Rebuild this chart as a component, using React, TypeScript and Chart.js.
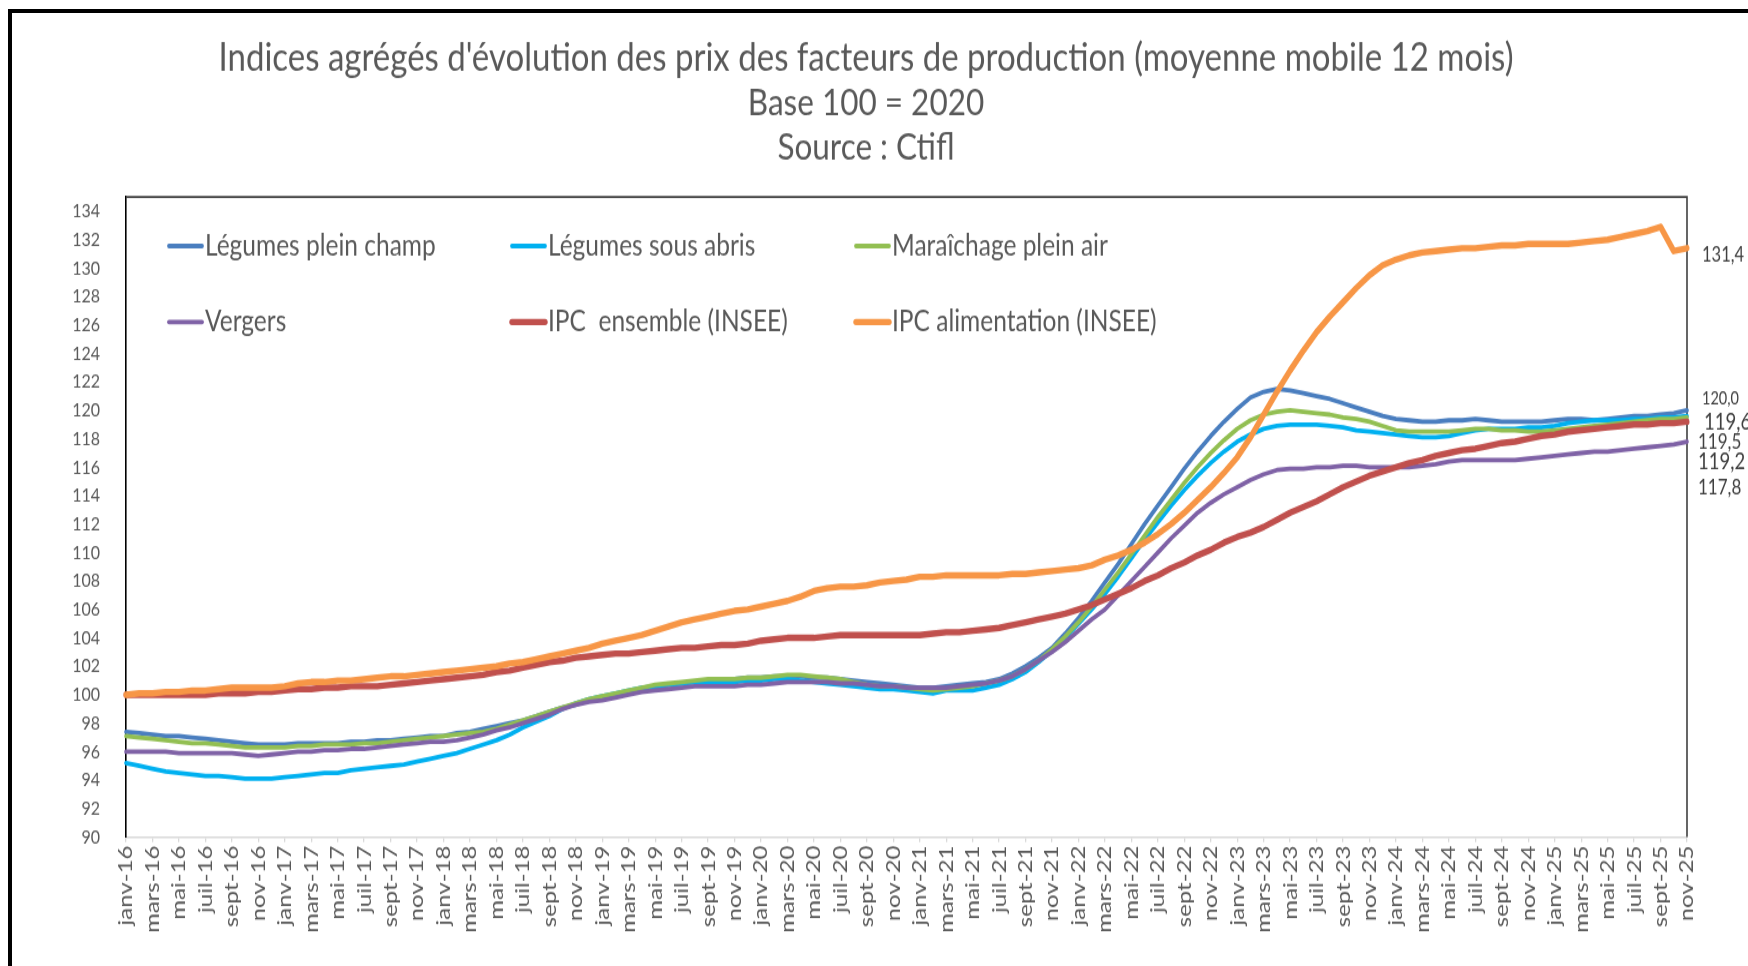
import { useEffect, useRef } from 'react';
import { Chart, registerables } from 'chart.js';

Chart.register(...registerables);

// ---------- data ----------
const MONTHS = ['janv', 'févr', 'mars', 'avr', 'mai', 'juin', 'juil', 'août', 'sept', 'oct', 'nov', 'déc'];
const YEARS = ['16', '17', '18', '19', '20', '21', '22', '23', '24', '25'];
const CATEGORIES: string[] = YEARS.flatMap((y) => MONTHS.map((m) => `${m}-${y}`)).slice(0, 119); // janv-16 .. nov-25

const Y_TICKS = [90, 92, 94, 96, 98, 100, 102, 104, 106, 108, 110, 112, 114, 116, 118, 120, 122, 124, 126, 128, 130, 132, 134];

const TITLE_LINES = [
  "Indices agrégés d'évolution des prix des facteurs de production (moyenne mobile 12 mois)",
  'Base 100 = 2020',
  'Source : Ctifl',
];

const LEGUMES_PLEIN_CHAMP = [
  97.4, 97.3, 97.2, 97.1, 97.1, 97.0, 96.9, 96.8, 96.7, 96.6,
  96.5, 96.5, 96.5, 96.6, 96.6, 96.6, 96.6, 96.7, 96.7, 96.8,
  96.8, 96.9, 97.0, 97.1, 97.1, 97.3, 97.4, 97.6, 97.8, 98.0,
  98.2, 98.5, 98.8, 99.1, 99.3, 99.6, 99.8, 100.0, 100.2, 100.4,
  100.5, 100.7, 100.8, 100.9, 101.0, 101.1, 101.1, 101.2, 101.2, 101.3,
  101.3, 101.3, 101.2, 101.2, 101.1, 101.0, 100.9, 100.8, 100.7, 100.6,
  100.5, 100.5, 100.6, 100.7, 100.8, 100.9, 101.1, 101.5, 102.0, 102.6,
  103.3, 104.3, 105.4, 106.6, 107.9, 109.2, 110.6, 112.0, 113.3, 114.6,
  115.9, 117.1, 118.2, 119.2, 120.1, 120.9, 121.3, 121.5, 121.4, 121.2,
  121.0, 120.8, 120.5, 120.2, 119.9, 119.6, 119.4, 119.3, 119.2, 119.2,
  119.3, 119.3, 119.4, 119.3, 119.2, 119.2, 119.2, 119.2, 119.3, 119.4,
  119.4, 119.3, 119.4, 119.5, 119.6, 119.6, 119.7, 119.8, 120.0,
];

const LEGUMES_SOUS_ABRIS = [
  95.2, 95.0, 94.8, 94.6, 94.5, 94.4, 94.3, 94.3, 94.2, 94.1,
  94.1, 94.1, 94.2, 94.3, 94.4, 94.5, 94.5, 94.7, 94.8, 94.9,
  95.0, 95.1, 95.3, 95.5, 95.7, 95.9, 96.2, 96.5, 96.8, 97.2,
  97.7, 98.1, 98.5, 99.0, 99.4, 99.7, 99.9, 100.1, 100.3, 100.5,
  100.6, 100.7, 100.8, 100.9, 100.9, 100.9, 100.9, 101.0, 101.0, 101.1,
  101.1, 101.0, 100.9, 100.8, 100.7, 100.6, 100.5, 100.4, 100.4, 100.3,
  100.2, 100.1, 100.3, 100.3, 100.3, 100.5, 100.7, 101.1, 101.6, 102.3,
  103.1, 104.0, 105.0, 106.0, 107.1, 108.3, 109.6, 110.9, 112.1, 113.3,
  114.4, 115.4, 116.3, 117.1, 117.8, 118.3, 118.7, 118.9, 119.0, 119.0,
  119.0, 118.9, 118.8, 118.6, 118.5, 118.4, 118.3, 118.2, 118.1, 118.1,
  118.2, 118.4, 118.6, 118.7, 118.7, 118.7, 118.8, 118.8, 118.9, 119.1,
  119.2, 119.3, 119.3, 119.3, 119.4, 119.4, 119.5, 119.5, 119.6,
];

const MARAICHAGE_PLEIN_AIR = [
  97.1, 97.0, 96.9, 96.8, 96.7, 96.6, 96.6, 96.5, 96.4, 96.3,
  96.3, 96.3, 96.3, 96.4, 96.4, 96.5, 96.5, 96.5, 96.6, 96.6,
  96.7, 96.8, 96.9, 97.0, 97.1, 97.2, 97.3, 97.4, 97.6, 97.9,
  98.2, 98.5, 98.8, 99.1, 99.4, 99.7, 99.9, 100.1, 100.3, 100.5,
  100.7, 100.8, 100.9, 101.0, 101.1, 101.1, 101.1, 101.2, 101.2, 101.3,
  101.4, 101.4, 101.3, 101.2, 101.1, 100.9, 100.7, 100.6, 100.6, 100.5,
  100.4, 100.3, 100.4, 100.5, 100.6, 100.8, 101.0, 101.3, 101.8, 102.4,
  103.2, 104.1, 105.1, 106.2, 107.4, 108.6, 109.9, 111.2, 112.5, 113.7,
  114.9, 116.0, 117.0, 117.9, 118.7, 119.3, 119.7, 119.9, 120.0, 119.9,
  119.8, 119.7, 119.5, 119.4, 119.2, 118.9, 118.6, 118.5, 118.5, 118.5,
  118.5, 118.6, 118.7, 118.7, 118.6, 118.6, 118.5, 118.5, 118.6, 118.7,
  118.8, 118.9, 119.0, 119.1, 119.2, 119.3, 119.4, 119.4, 119.5,
];

const VERGERS = [
  96.0, 96.0, 96.0, 96.0, 95.9, 95.9, 95.9, 95.9, 95.9, 95.8,
  95.7, 95.8, 95.9, 96.0, 96.0, 96.1, 96.1, 96.2, 96.2, 96.3,
  96.4, 96.5, 96.6, 96.7, 96.7, 96.8, 97.0, 97.2, 97.5, 97.7,
  98.0, 98.3, 98.6, 99.0, 99.3, 99.5, 99.6, 99.8, 100.0, 100.2,
  100.3, 100.4, 100.5, 100.6, 100.6, 100.6, 100.6, 100.7, 100.7, 100.8,
  100.9, 100.9, 100.9, 100.9, 100.8, 100.8, 100.7, 100.6, 100.6, 100.5,
  100.5, 100.5, 100.5, 100.6, 100.7, 100.8, 101.0, 101.3, 101.8, 102.4,
  103.0, 103.7, 104.5, 105.3, 106.0, 107.0, 108.0, 109.0, 110.0, 111.0,
  111.9, 112.8, 113.5, 114.1, 114.6, 115.1, 115.5, 115.8, 115.9, 115.9,
  116.0, 116.0, 116.1, 116.1, 116.0, 116.0, 116.0, 116.0, 116.1, 116.2,
  116.4, 116.5, 116.5, 116.5, 116.5, 116.5, 116.6, 116.7, 116.8, 116.9,
  117.0, 117.1, 117.1, 117.2, 117.3, 117.4, 117.5, 117.6, 117.8,
];

const IPC_ENSEMBLE = [
  100.0, 100.0, 100.0, 100.0, 100.0, 100.0, 100.0, 100.1, 100.1, 100.1,
  100.2, 100.2, 100.3, 100.4, 100.4, 100.5, 100.5, 100.6, 100.6, 100.6,
  100.7, 100.8, 100.9, 101.0, 101.1, 101.2, 101.3, 101.4, 101.6, 101.7,
  101.9, 102.1, 102.3, 102.4, 102.6, 102.7, 102.8, 102.9, 102.9, 103.0,
  103.1, 103.2, 103.3, 103.3, 103.4, 103.5, 103.5, 103.6, 103.8, 103.9,
  104.0, 104.0, 104.0, 104.1, 104.2, 104.2, 104.2, 104.2, 104.2, 104.2,
  104.2, 104.3, 104.4, 104.4, 104.5, 104.6, 104.7, 104.9, 105.1, 105.3,
  105.5, 105.7, 106.0, 106.3, 106.7, 107.1, 107.5, 108.0, 108.4, 108.9,
  109.3, 109.8, 110.2, 110.7, 111.1, 111.4, 111.8, 112.3, 112.8, 113.2,
  113.6, 114.1, 114.6, 115.0, 115.4, 115.7, 116.0, 116.3, 116.5, 116.8,
  117.0, 117.2, 117.3, 117.5, 117.7, 117.8, 118.0, 118.2, 118.3, 118.5,
  118.6, 118.7, 118.8, 118.9, 119.0, 119.0, 119.1, 119.1, 119.2,
];

const IPC_ALIMENTATION = [
  100.0, 100.1, 100.1, 100.2, 100.2, 100.3, 100.3, 100.4, 100.5, 100.5,
  100.5, 100.5, 100.6, 100.8, 100.9, 100.9, 101.0, 101.0, 101.1, 101.2,
  101.3, 101.3, 101.4, 101.5, 101.6, 101.7, 101.8, 101.9, 102.0, 102.2,
  102.3, 102.5, 102.7, 102.9, 103.1, 103.3, 103.6, 103.8, 104.0, 104.2,
  104.5, 104.8, 105.1, 105.3, 105.5, 105.7, 105.9, 106.0, 106.2, 106.4,
  106.6, 106.9, 107.3, 107.5, 107.6, 107.6, 107.7, 107.9, 108.0, 108.1,
  108.3, 108.3, 108.4, 108.4, 108.4, 108.4, 108.4, 108.5, 108.5, 108.6,
  108.7, 108.8, 108.9, 109.1, 109.5, 109.8, 110.2, 110.7, 111.3, 112.0,
  112.8, 113.7, 114.6, 115.6, 116.7, 118.1, 119.7, 121.3, 122.8, 124.2,
  125.5, 126.6, 127.6, 128.6, 129.5, 130.2, 130.6, 130.9, 131.1, 131.2,
  131.3, 131.4, 131.4, 131.5, 131.6, 131.6, 131.7, 131.7, 131.7, 131.7,
  131.8, 131.9, 132.0, 132.2, 132.4, 132.6, 132.9, 131.2, 131.4,
];

const SERIES_NAMES = [
  'Légumes plein champ',
  'Légumes sous abris',
  'Maraîchage plein air',
  'Vergers',
  'IPC  ensemble (INSEE)',
  'IPC alimentation (INSEE)',
];
const SERIES_DATA = [LEGUMES_PLEIN_CHAMP, LEGUMES_SOUS_ABRIS, MARAICHAGE_PLEIN_AIR, VERGERS, IPC_ENSEMBLE, IPC_ALIMENTATION];

// ---------- style ----------
const COLORS = ['#4A7EBF', '#00B0F0', '#92BF52', '#7F62A6', '#C0504D', '#F79646'];
const WIDTHS = [3.8, 3.8, 3.8, 3.8, 5.4, 5.4];
const FONT = 'Lato, "Open Sans", sans-serif';
const TEXT = '#595959';
const SY = 1.2; // vertical stretch of the picture
const W = 1748;
const H_FULL = 966;
const H = H_FULL / SY;

// title line styling: font size, centre y (full scale)
const TITLE_STYLE = [
  { size: 33, y: 58 },
  { size: 31.5, y: 103 },
  { size: 31.5, y: 147 },
];

// end-label styling: series index, dy (px, full scale), dx, font size
const END_LABEL_STYLE = [
  { s: 5, dy: 7, dx: 15, size: 16.5 },
  { s: 0, dy: -11, dx: 15, size: 14.5 },
  { s: 1, dy: 6, dx: 17, size: 18.5 },
  { s: 2, dy: 25, dx: 11, size: 17 },
  { s: 4, dy: 40, dx: 11, size: 18.5 },
  { s: 3, dy: 46, dx: 11, size: 17 },
];

const decorPlugin = {
  id: 'decor',
  beforeDatasetsDraw(chart: any) {
    const { ctx, chartArea: a } = chart;
    ctx.save();
    ctx.strokeStyle = '#404040';
    ctx.lineWidth = 1.6;
    ctx.beginPath();
    ctx.moveTo(a.left, a.top);
    ctx.lineTo(a.right, a.top);
    ctx.lineTo(a.right, a.bottom);
    ctx.stroke();
    ctx.restore();
  },
  afterDraw(chart: any) {
    const { ctx, chartArea: a, scales } = chart;
    ctx.save();
    // title
    ctx.fillStyle = TEXT;
    ctx.textAlign = 'center';
    ctx.textBaseline = 'middle';
    TITLE_LINES.forEach((t, i) => {
      ctx.font = `${TITLE_STYLE[i].size}px ${FONT}`;
      ctx.fillText(t, 866, TITLE_STYLE[i].y / SY);
    });
    // legend inside plot area
    const colX = [167, 510, 854];
    const rowY = [246 / SY, 322 / SY];
    SERIES_NAMES.forEach((name, i) => {
      const x = colX[i % 3];
      const y = rowY[Math.floor(i / 3)];
      ctx.strokeStyle = COLORS[i];
      ctx.lineWidth = WIDTHS[i];
      ctx.lineCap = 'round';
      ctx.beginPath();
      ctx.moveTo(x + 2, y);
      ctx.lineTo(x + 35, y);
      ctx.stroke();
      ctx.fillStyle = TEXT;
      ctx.textAlign = 'left';
      ctx.textBaseline = 'middle';
      ctx.font = `24.5px ${FONT}`;
      ctx.fillText(name, x + 38, y);
    });
    // end value labels
    ctx.fillStyle = '#404040';
    ctx.textAlign = 'left';
    ctx.textBaseline = 'middle';
    END_LABEL_STYLE.forEach((l) => {
      const data = SERIES_DATA[l.s];
      const v = data[data.length - 1];
      const y = scales.y.getPixelForValue(v) + l.dy / SY;
      ctx.font = `${l.size}px ${FONT}`;
      ctx.fillText(v.toFixed(1).replace('.', ','), a.right + l.dx, y);
    });
    ctx.restore();
  },
};

export default function App() {
  const ref = useRef<HTMLCanvasElement>(null);

  useEffect(() => {
    if (!ref.current) return;
    const chart = new Chart(ref.current, {
      type: 'line',
      data: {
        labels: CATEGORIES,
        datasets: SERIES_NAMES.map((name, i) => ({
          label: name,
          data: SERIES_DATA[i],
          borderColor: COLORS[i],
          backgroundColor: COLORS[i],
          borderWidth: WIDTHS[i],
          pointRadius: 0,
          tension: 0,
          fill: false,
          borderJoinStyle: 'round' as const,
          borderCapStyle: 'round' as const,
          order: SERIES_NAMES.length - i,
        })),
      },
      options: {
        responsive: false,
        animation: false,
        events: [],
        layout: { padding: { left: 0, right: W - 1687, top: 197 / SY, bottom: 0 } },
        plugins: {
          legend: { display: false },
          title: { display: false },
          tooltip: { enabled: false },
        },
        scales: {
          x: {
            type: 'category',
            offset: false,
            grid: { display: true, drawOnChartArea: false, drawTicks: true, tickLength: 5 / SY, color: '#D9D9D9', lineWidth: 1.3 },
            border: { display: true, color: '#D9D9D9', width: 1.5 },
            ticks: {
              autoSkip: false,
              maxRotation: 90,
              minRotation: 90,
              padding: 3,
              color: TEXT,
              font: { family: FONT, size: 20 },
              callback: (_v: any, i: number) => (i % 2 === 0 ? CATEGORIES[i] : null),
            },
            afterFit: (s: any) => {
              s.height = (H_FULL - 837) / SY;
            },
          },
          y: {
            min: 90,
            max: 135,
            afterBuildTicks: (s: any) => {
              s.ticks = Y_TICKS.map((v) => ({ value: v }));
            },
            grid: { display: false, drawTicks: false },
            border: { display: true, color: '#000', width: 1.6 },
            ticks: { padding: 26, color: TEXT, font: { family: FONT, size: 16 } },
            afterFit: (s: any) => {
              s.width = 126;
            },
          },
        },
      },
      plugins: [decorPlugin],
    });
    return () => chart.destroy();
  }, []);

  return (
    <div style={{ position: 'fixed', left: 0, top: 0, width: W, height: H_FULL, background: '#fff', overflow: 'hidden' }}>
      <div style={{ position: 'absolute', left: 0, top: 0, width: W, height: H, transform: `scaleY(${SY})`, transformOrigin: '0 0' }}>
        <canvas ref={ref} width={W} height={H} style={{ width: W, height: H, display: 'block' }} />
      </div>
      <div
        style={{
          position: 'absolute',
          left: 8,
          top: 9,
          right: -10,
          bottom: -10,
          borderLeft: '4px solid #000',
          borderTop: '4px solid #000',
          pointerEvents: 'none',
        }}
      />
    </div>
  );
}
